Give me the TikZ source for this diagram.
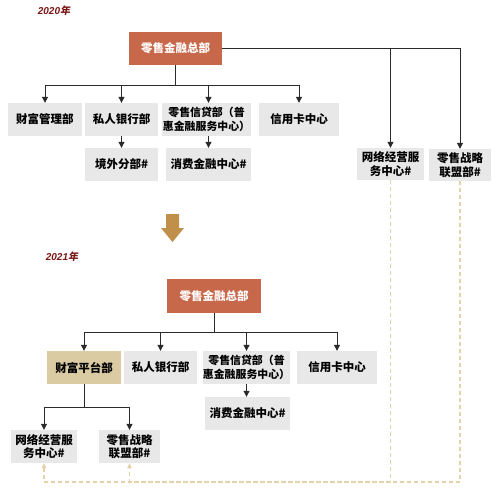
\documentclass[tikz,border=0pt]{standalone}
\usepackage{fontspec}
\setmainfont{Noto Sans CJK SC}
\newfontfamily\yearfont{Liberation Sans}
\newfontfamily\cjkslant{Noto Sans CJK SC}[FakeSlant=0.2]
\usetikzlibrary{arrows.meta}
\definecolor{hqred}{HTML}{C8684B}
\definecolor{boxgray}{HTML}{E8E8E8}
\definecolor{tanfill}{HTML}{DACBA3}
\definecolor{dashtan}{HTML}{E6D2A8}
\definecolor{bigarrow}{HTML}{C0904A}
\definecolor{yearred}{HTML}{7A1616}
\definecolor{linegray}{HTML}{2A2A2A}
\tikzset{
  box/.style={fill=boxgray, inner sep=0pt, align=center, font=\bfseries\fontsize{11.5}{13.5}\selectfont, text=black},
  widebox/.style={box, font=\bfseries\fontsize{10.9}{13.5}\selectfont},
  hqbox/.style={fill=hqred, inner sep=0pt, align=center, font=\bfseries\fontsize{11.5}{13.5}\selectfont, text=white},
  conn/.style={draw=linegray, line width=1pt},
  arr/.style={conn, -{Triangle[length=6pt,width=6pt]}},
  dline/.style={draw=dashtan, line width=1.2pt, dash pattern=on 4pt off 3pt, -{Triangle[length=5pt,width=4.5pt]}},
  yearlabel/.style={text=yearred, inner sep=0pt, font=\bfseries\fontsize{10}{12}\selectfont}
}
\begin{document}
\begin{tikzpicture}[x=1pt,y=-1pt]
\useasboundingbox (0,0) rectangle (497,491);
% ---------- 2020 ----------
\node[yearlabel] (y2020) at (54,11) {\yearfont\itshape 2020\cjkslant 年};
\node[hqbox, minimum width=93pt, minimum height=33pt] (hq1) at (175.5,48.5) {零售金融总部};
\node[box, minimum width=74pt, minimum height=33pt] (cf1) at (45,119.5) {财富管理部};
\node[box, minimum width=73pt, minimum height=33pt] (sr1) at (121.5,119.5) {私人银行部};
\node[widebox, minimum width=89pt, minimum height=33pt] (ls1) at (206.5,119.5) {零售信贷部（普\\惠金融服务中心）};
\node[box, minimum width=80pt, minimum height=33pt] (xy1) at (299,119.5) {信用卡中心};
\node[box, minimum width=73pt, minimum height=33pt] (jw1) at (121.5,164.5) {境外分部\#};
\node[box, minimum width=85pt, minimum height=33pt] (xf1) at (208.5,164.5) {消费金融中心\#};
\node[box, minimum width=67pt, minimum height=32pt] (wl1) at (390.5,164) {网络经营服\\务中心\#};
\node[box, minimum width=62pt, minimum height=32pt] (lm1) at (460,165) {零售战略\\联盟部\#};
\coordinate (bus1) at (0,85);
\draw[conn] (hq1.south) -- (hq1.south |- bus1);
\draw[conn] (cf1.north |- bus1) -- (xy1.north |- bus1);
\draw[arr] (cf1.north |- bus1) -- (cf1.north);
\draw[arr] (sr1.north |- bus1) -- (sr1.north);
\draw[arr] (xf1.north |- bus1) -- (ls1.north -| xf1.north);
\draw[arr] (xy1.north |- bus1) -- (xy1.north);
\draw[arr] (sr1.south) -- (jw1.north);
\draw[arr] (ls1.south -| xf1.north) -- (xf1.north);
\draw[arr] (hq1.east) -| (lm1.north);
\draw[arr] (hq1.east -| wl1.north) -- (wl1.north);
% big arrow
\fill[bigarrow] (166,214) -- (179,214) -- (179,228) -- (184,228) -- (172.5,242) -- (161,228) -- (166,228) -- cycle;
% ---------- 2021 ----------
\node[yearlabel] (y2021) at (62,257) {\yearfont\itshape 2021\cjkslant 年};
\node[hqbox, minimum width=94pt, minimum height=34pt] (hq2) at (214,296) {零售金融总部};
\node[box, fill=tanfill, minimum width=74pt, minimum height=33pt] (cfp) at (84,367.5) {财富平台部};
\node[box, minimum width=73pt, minimum height=33pt] (sr2) at (160.5,367.5) {私人银行部};
\node[widebox, minimum width=87pt, minimum height=33pt] (ls2) at (246.5,367.5) {零售信贷部（普\\惠金融服务中心）};
\node[box, minimum width=80pt, minimum height=33pt] (xy2) at (337,367.5) {信用卡中心};
\node[box, minimum width=85pt, minimum height=33pt] (xf2) at (247.5,413.5) {消费金融中心\#};
\node[box, minimum width=66pt, minimum height=33pt] (wl2) at (44,446.5) {网络经营服\\务中心\#};
\node[box, minimum width=61pt, minimum height=33pt] (lm2) at (129.5,446.5) {零售战略\\联盟部\#};
\coordinate (bus2) at (0,332);
\coordinate (bus3) at (0,407);
\coordinate (bot) at (0,482);
\draw[conn] (hq2.south) -- (hq2.south |- bus2);
\draw[conn] (cfp.north |- bus2) -- (xy2.north |- bus2);
\draw[arr] (cfp.north |- bus2) -- (cfp.north);
\draw[arr] (sr2.north |- bus2) -- (sr2.north);
\draw[arr] (ls2.north |- bus2) -- (ls2.north);
\draw[arr] (xy2.north |- bus2) -- (xy2.north);
\draw[arr] (ls2.south) -- (ls2.south |- xf2.north);
\draw[conn] (cfp.south) -- (cfp.south |- bus3);
\draw[conn] (wl2.north |- bus3) -- (lm2.north |- bus3);
\draw[arr] (wl2.north |- bus3) -- (wl2.north);
\draw[arr] (lm2.north |- bus3) -- (lm2.north);
% dashed moves
\draw[dline] (wl1.south) -- (wl1.south |- bot) -| (wl2.south);
\draw[dline] (lm1.south) -- (lm1.south |- bot) -| (lm2.south);
\end{tikzpicture}
\end{document}
